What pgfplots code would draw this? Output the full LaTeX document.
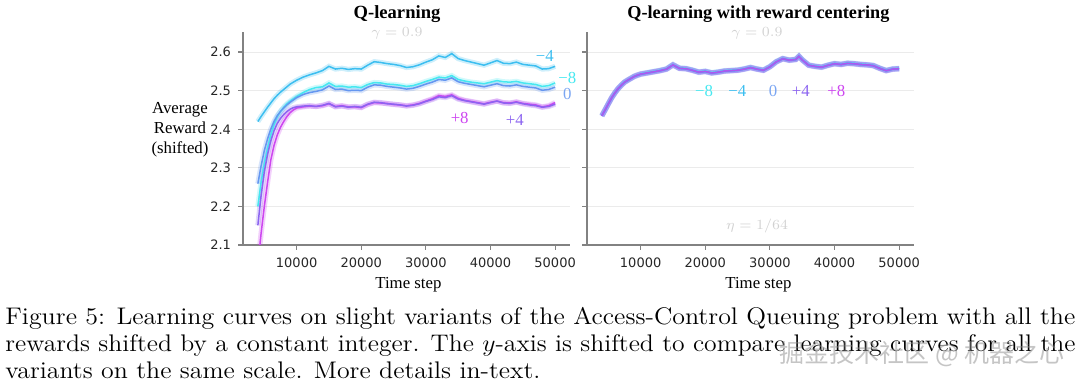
\documentclass[border=0pt]{standalone}
\usepackage{fontspec}
\usepackage{pgfplots}
\usepackage{pgfplotstable}
\pgfplotsset{compat=1.18}
\newfontfamily\dejavu{DejaVu Sans}
\newfontfamily\serifc{Liberation Serif}
\newfontfamily\cjk{Noto Sans CJK SC}

\definecolor{cmfour}{RGB}{60,190,240}
\definecolor{cmeight}{RGB}{70,232,240}
\definecolor{czero}{RGB}{100,150,240}
\definecolor{cpfour}{RGB}{140,100,240}
\definecolor{cpeight}{RGB}{205,70,240}
\definecolor{axisgray}{RGB}{130,130,130}

\pgfplotstableread{
x      m4     m8     z      p4     p8
4000   2.420  2.200  2.259  2.151  2.050
4500   2.433  2.262  2.305  2.228  2.130
5000   2.445  2.310  2.345  2.290  2.200
5500   2.457  2.350  2.375  2.335  2.262
6000   2.468  2.385  2.400  2.370  2.320
6500   2.479  2.412  2.420  2.396  2.358
7000   2.488  2.432  2.435  2.415  2.385
7500   2.496  2.446  2.446  2.428  2.405
8000   2.503  2.457  2.455  2.438  2.420
8500   2.510  2.466  2.463  2.446  2.433
9000   2.517  2.473  2.470  2.452  2.443
9500   2.522  2.479  2.476  2.456  2.450
10000  2.527  2.485  2.482  2.458  2.455
11000  2.535  2.495  2.490  2.460  2.458
12000  2.541  2.503  2.495  2.461  2.460
13000  2.546  2.508  2.498  2.459  2.459
14000  2.552  2.510  2.502  2.462  2.461
15000  2.563  2.520  2.512  2.467  2.466
16000  2.556  2.511  2.503  2.458  2.459
17000  2.558  2.512  2.504  2.460  2.461
18000  2.555  2.509  2.500  2.457  2.458
19000  2.557  2.510  2.501  2.459  2.458
20000  2.556  2.508  2.500  2.457  2.456
21000  2.566  2.516  2.509  2.465  2.464
22000  2.575  2.521  2.515  2.470  2.469
23000  2.573  2.520  2.514  2.469  2.468
24000  2.570  2.517  2.511  2.466  2.467
25000  2.568  2.516  2.509  2.465  2.464
26000  2.565  2.514  2.507  2.463  2.463
27000  2.560  2.511  2.504  2.460  2.461
28000  2.562  2.513  2.506  2.462  2.463
29000  2.567  2.518  2.511  2.466  2.467
30000  2.574  2.524  2.517  2.472  2.473
31000  2.580  2.529  2.522  2.477  2.479
32000  2.590  2.535  2.529  2.484  2.487
33000  2.586  2.533  2.527  2.482  2.485
34000  2.596  2.539  2.533  2.487  2.489
35000  2.583  2.529  2.523  2.478  2.480
36000  2.578  2.525  2.519  2.474  2.475
37000  2.574  2.522  2.516  2.471  2.472
38000  2.570  2.520  2.513  2.468  2.469
39000  2.566  2.518  2.510  2.465  2.466
40000  2.572  2.522  2.514  2.469  2.470
41000  2.578  2.526  2.518  2.473  2.473
42000  2.571  2.523  2.513  2.468  2.469
43000  2.570  2.522  2.512  2.467  2.468
44000  2.574  2.524  2.515  2.470  2.471
45000  2.568  2.520  2.511  2.466  2.467
46000  2.566  2.518  2.509  2.463  2.465
47000  2.564  2.516  2.507  2.461  2.463
48000  2.556  2.511  2.501  2.457  2.458
49000  2.557  2.513  2.503  2.459  2.461
50000  2.563  2.520  2.509  2.465  2.469
}\qltable

\pgfplotstableread{
x      m8     m4     z      p4     p8
4000   2.434  2.435  2.436  2.435  2.434
4500   2.451  2.450  2.449  2.450  2.451
5000   2.467  2.466  2.465  2.466  2.466
5500   2.482  2.481  2.480  2.481  2.482
6000   2.495  2.494  2.493  2.494  2.494
6500   2.506  2.505  2.504  2.505  2.506
7000   2.515  2.514  2.513  2.514  2.514
7500   2.523  2.522  2.521  2.522  2.522
8000   2.528  2.527  2.526  2.527  2.528
8500   2.533  2.532  2.531  2.532  2.532
9000   2.538  2.537  2.536  2.537  2.537
9500   2.541  2.540  2.539  2.540  2.541
10000  2.544  2.543  2.542  2.543  2.543
11000  2.547  2.546  2.545  2.546  2.546
12000  2.550  2.549  2.548  2.549  2.549
13000  2.553  2.552  2.551  2.552  2.552
14000  2.557  2.556  2.555  2.556  2.556
15000  2.568  2.567  2.566  2.567  2.567
16000  2.559  2.558  2.557  2.558  2.558
17000  2.558  2.557  2.556  2.557  2.557
18000  2.554  2.553  2.552  2.553  2.553
19000  2.549  2.548  2.547  2.548  2.548
20000  2.551  2.550  2.549  2.550  2.550
21000  2.547  2.546  2.545  2.546  2.546
22000  2.549  2.548  2.547  2.548  2.548
23000  2.552  2.551  2.550  2.551  2.551
24000  2.553  2.552  2.551  2.552  2.552
25000  2.554  2.553  2.552  2.553  2.553
26000  2.557  2.556  2.555  2.556  2.556
27000  2.561  2.560  2.559  2.560  2.560
28000  2.557  2.556  2.555  2.556  2.556
29000  2.554  2.553  2.552  2.553  2.553
30000  2.563  2.562  2.561  2.562  2.562
31000  2.576  2.575  2.574  2.575  2.575
32000  2.584  2.583  2.582  2.583  2.583
33000  2.580  2.579  2.578  2.579  2.579
34000  2.582  2.581  2.580  2.581  2.581
34500  2.590  2.589  2.588  2.589  2.589
35000  2.581  2.580  2.579  2.580  2.580
36000  2.567  2.566  2.565  2.566  2.566
37000  2.564  2.563  2.562  2.563  2.563
38000  2.562  2.561  2.560  2.561  2.561
39000  2.567  2.566  2.565  2.566  2.566
40000  2.571  2.570  2.569  2.570  2.570
41000  2.569  2.568  2.567  2.568  2.568
42000  2.572  2.571  2.570  2.571  2.571
43000  2.571  2.570  2.569  2.570  2.570
44000  2.569  2.568  2.567  2.568  2.568
45000  2.568  2.567  2.566  2.567  2.567
46000  2.566  2.565  2.564  2.565  2.565
47000  2.559  2.558  2.557  2.558  2.558
48000  2.553  2.552  2.551  2.552  2.552
49000  2.557  2.556  2.555  2.556  2.556
50000  2.558  2.557  2.556  2.557  2.557
}\rctable

\tikzset{lab/.style={font=\serifc\fontsize{8.4}{10}\selectfont}}
\pgfplotsset{
  rlstyle/.style={
    scale only axis, width=163.5pt, height=106.5pt,
    xmin=1700, xmax=52300, ymin=2.1, ymax=2.652,
    axis x line*=bottom, axis y line*=left,
    axis line style={draw=axisgray, line width=0.7pt},
    xtick={10000,20000,30000,40000,50000},
    ytick={2.1,2.2,2.3,2.4,2.5,2.6},
    tick style={draw=axisgray, line width=0.6pt},
    tick align=outside, major tick length=2.5pt,
    ymajorgrids, grid style={black!8, line width=0.5pt},
    ticklabel style={font=\dejavu\fontsize{6.5}{7}\selectfont, text=black!85},
    /pgf/number format/assume math mode=true,
    scaled x ticks=false,
    xticklabel style={/pgf/number format/1000 sep={}, yshift=-0.5pt},
    yticklabel style={/pgf/number format/.cd, fixed, precision=1, fixed zerofill},
    clip mode=individual,
  },
  halo/.style={line width=2.6pt, opacity=0.25, forget plot},
  ln/.style={line width=0.75pt, forget plot},
}

\begin{document}
\begin{tikzpicture}
\path[use as bounding box] (-121.5pt,-72pt) rectangle (418.5pt,122.5pt);

% ---------- left: Q-learning ----------
\begin{axis}[rlstyle, at={(0pt,0pt)}]
  \addplot[halo, cmfour] table[x=x, y=m4] {\qltable};
  \addplot[halo, cmeight] table[x=x, y=m8] {\qltable};
  \addplot[halo, czero] table[x=x, y=z] {\qltable};
  \addplot[halo, cpfour] table[x=x, y=p4] {\qltable};
  \addplot[halo, cpeight] table[x=x, y=p8] {\qltable};
  \addplot[ln, cmfour] table[x=x, y=m4] {\qltable};
  \addplot[ln, cmeight] table[x=x, y=m8] {\qltable};
  \addplot[ln, czero] table[x=x, y=z] {\qltable};
  \addplot[ln, cpeight] table[x=x, y=p8] {\qltable};
  \addplot[ln, cpfour] table[x=x, y=p4] {\qltable};
  \node[lab, text=cmfour] at (axis cs:48400,2.591) {−4};
  \node[lab, text=cmeight] at (axis cs:51900,2.533) {−8};
  \node[lab, text=czero!85] at (axis cs:51900,2.492) {0};
  \node[lab, text=cpeight] at (axis cs:35230,2.430) {+8};
  \node[lab, text=cpfour] at (axis cs:43750,2.425) {+4};
\end{axis}

% ---------- right: with reward centering ----------
\begin{axis}[rlstyle, at={(172pt,0pt)}, yticklabels={}]
  \addplot[halo, cmeight] table[x=x, y=m8] {\rctable};
  \addplot[halo, cmfour] table[x=x, y=m4] {\rctable};
  \addplot[halo, czero] table[x=x, y=z] {\rctable};
  \addplot[halo, cpfour] table[x=x, y=p4] {\rctable};
  \addplot[halo, cpeight] table[x=x, y=p8] {\rctable};
  \addplot[ln, cmeight] table[x=x, y=m8] {\rctable};
  \addplot[ln, cmfour] table[x=x, y=m4] {\rctable};
  \addplot[ln, czero] table[x=x, y=z] {\rctable};
  \addplot[ln, cpfour, opacity=0.8] table[x=x, y=p4] {\rctable};
  \addplot[ln, cpeight, opacity=0.6] table[x=x, y=p8] {\rctable};
  \node[lab, text=cmeight] at (axis cs:19800,2.500) {−8};
  \node[lab, text=cmfour] at (axis cs:24950,2.500) {−4};
  \node[lab, text=czero!85] at (axis cs:30480,2.500) {0};
  \node[lab, text=cpfour] at (axis cs:34770,2.500) {+4};
  \node[lab, text=cpeight] at (axis cs:40280,2.500) {+8};
\end{axis}

% titles and labels
\node[font=\serifc\bfseries\fontsize{9.3}{11}\selectfont] at (77pt,115.5pt) {Q-learning};
\node[font=\serifc\bfseries\fontsize{9.1}{11}\selectfont] at (257.7pt,115.5pt) {Q-learning with reward centering};
\node[text=black!18, font=\fontsize{7}{8}\selectfont] at (77pt,106pt) {$\gamma = 0.9$};
\node[text=black!18, font=\fontsize{7}{8}\selectfont] at (257pt,106pt) {$\gamma = 0.9$};
\node[text=black!18, font=\fontsize{7}{8}\selectfont] at (257pt,9.5pt) {$\eta = 1/64$};
\node[lab] at (82.7pt,-20pt) {Time step};
\node[lab] at (257.7pt,-20pt) {Time step};
\node[lab, align=center] at (-31.5pt,57.5pt) {Average\\Reward\\(shifted)};

% caption
\node[anchor=base west, inner sep=0pt] at (-119pt,-40pt)
  {\resizebox{535pt}{\height}{\fontsize{12}{13.5}\selectfont Figure 5: Learning curves on slight variants of the Access-Control Queuing problem with all the}};
\node[anchor=base west, inner sep=0pt] at (-119pt,-53.5pt)
  {\resizebox{535pt}{\height}{\fontsize{12}{13.5}\selectfont rewards shifted by a constant integer. The $y$-axis is shifted to compare learning curves for all the}};
\node[anchor=base west, inner sep=0pt] at (-119pt,-67pt)
  {\resizebox{267.5pt}{\height}{\fontsize{12}{13.5}\selectfont variants on the same scale. More details in-text.}};
\node[text=black!45, opacity=0.5, font=\cjk\fontsize{12.5}{14}\selectfont] at (339.5pt,-54.5pt) {掘金技术社区 @ 机器之心};
\end{tikzpicture}
\end{document}
